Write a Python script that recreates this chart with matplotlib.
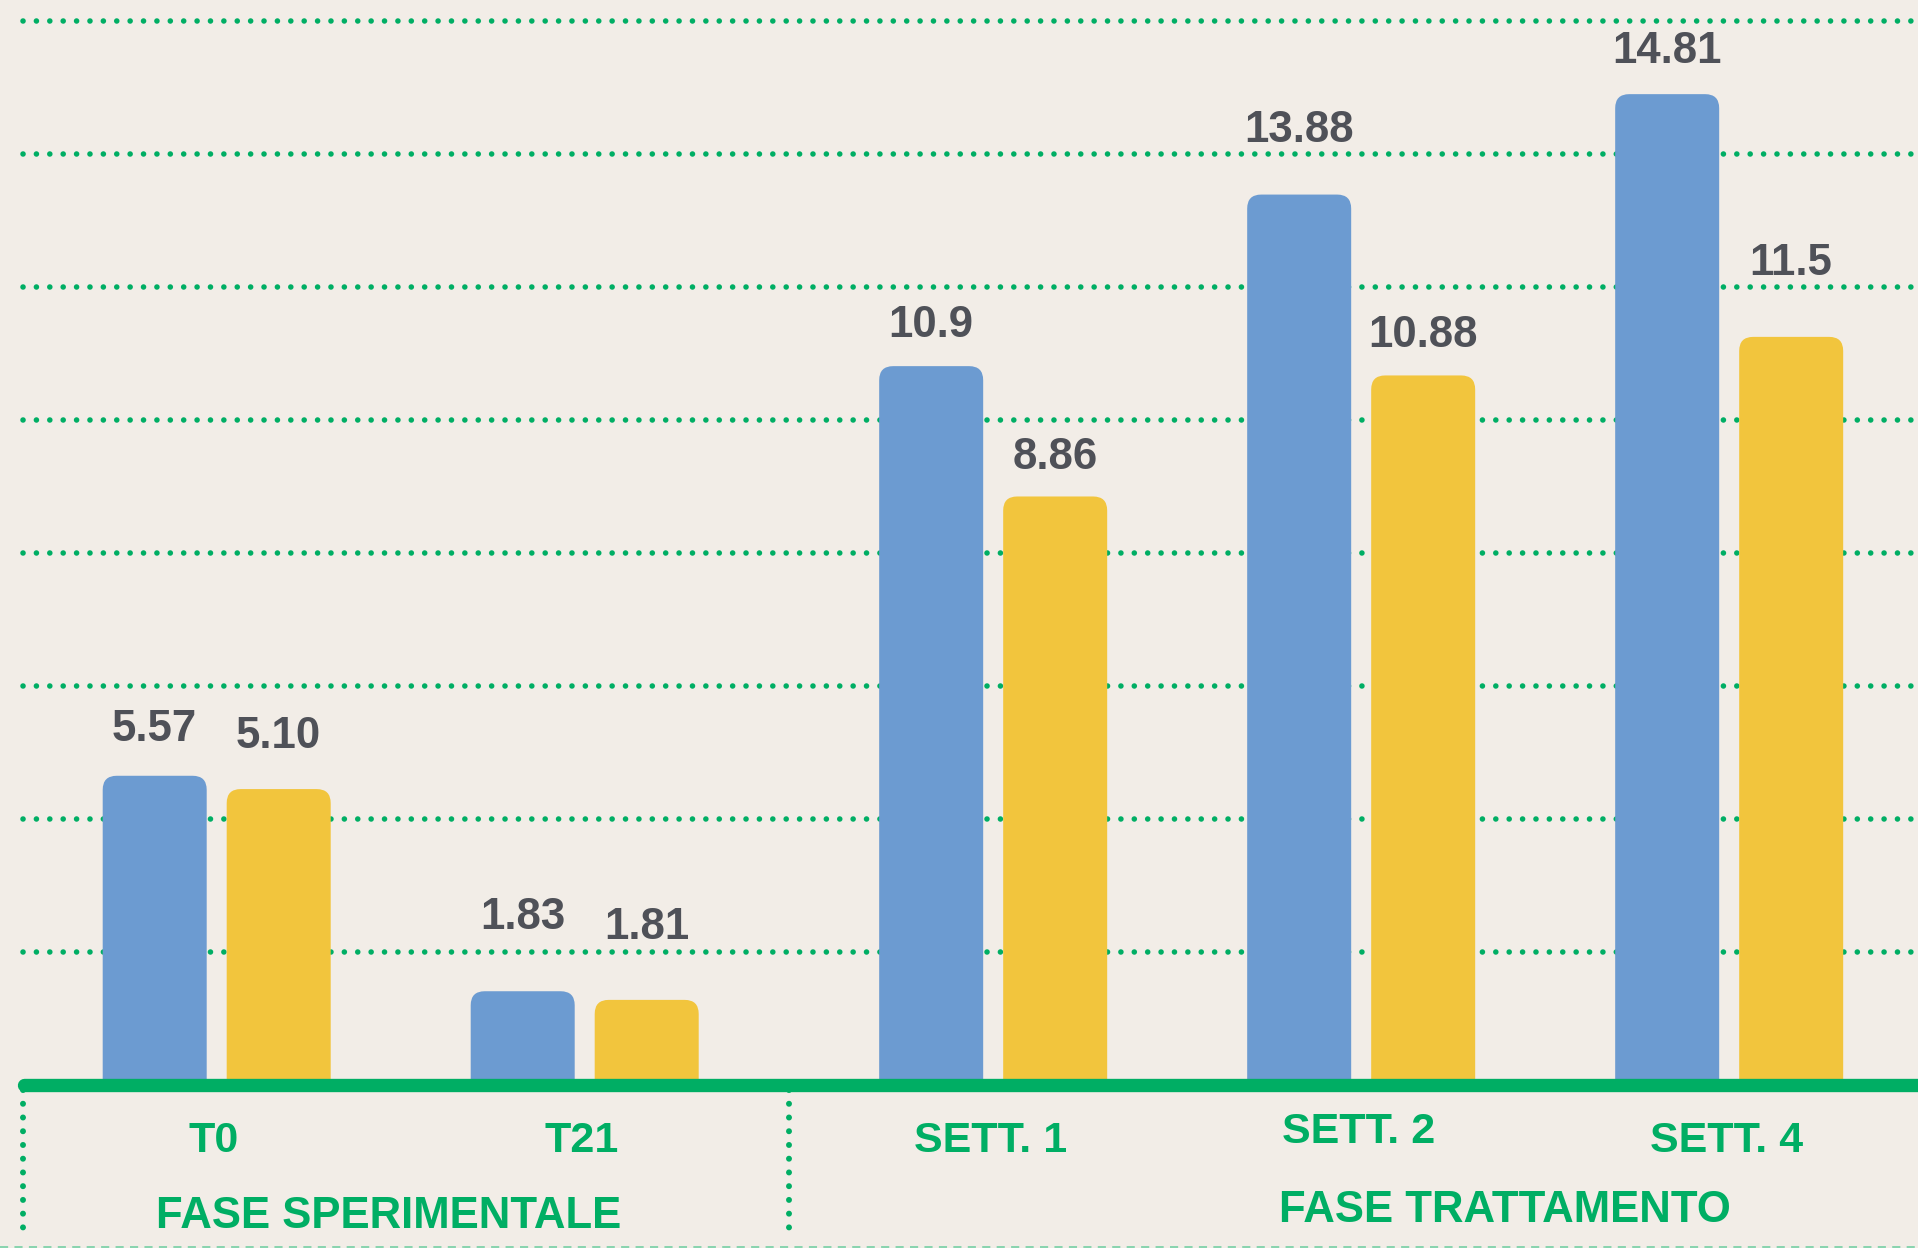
import matplotlib
matplotlib.use("Agg")
import matplotlib.pyplot as plt
from matplotlib.patches import FancyBboxPatch, Rectangle

# ---------------- data ----------------
categories = ["T0", "T21", "SETT. 1", "SETT. 2", "SETT. 4"]
category_phase = [0, 0, 1, 1, 1]
phases = ["FASE SPERIMENTALE", "FASE TRATTAMENTO"]
# bar heights as drawn in the picture (grid lines every 2 units)
blue_heights = [4.65, 1.41, 10.81, 13.39, 14.90]
yellow_heights = [4.45, 1.28, 8.85, 10.67, 11.25]
# value labels printed above the bars
blue_labels = ["5.57", "1.83", "10.9", "13.88", "14.81"]
yellow_labels = ["5.10", "1.81", "8.86", "10.88", "11.5"]
grid_values = [2, 4, 6, 8, 10, 12, 14, 16]

# ---------------- style / layout ----------------
BG = "#F2EDE7"
BLUE = "#6C9BD1"
YELLOW = "#F2C53D"
GREEN = "#00AE64"
LIGHT_GREEN = "#7FD2A9"
GRAY = "#4F5158"
FONT = ["Liberation Sans", "DejaVu Sans"]

W, H, DPI = 1918, 1248, 100
PX_X = 368.0      # pixels per category unit
X0 = 216.7        # pixel x of first category
PX_Y = 66.5       # pixels per value unit
Y0 = 1085.0       # pixel y of value 0
PHASE_GAP = 0.11
BAR_W = 104 / PX_X
BAR_OFF = 62 / PX_X
RADIUS_PX = 14
blue_lift_px = [35, 62, 29, 53, 31]
yellow_lift_px = [41, 61, 27, 28, 62]
cat_raise_px = [0, 0, 0, 9, 0]
phase_label_x = [0.466, 3.502]
phase_baseline_px = [1228, 1222]
cat_baseline_px = 1152


def vy(px):
    return (Y0 - px) / PX_Y


def ux(px):
    return (px - X0) / PX_X


fig = plt.figure(figsize=(W / DPI, H / DPI), dpi=DPI, facecolor=BG)
ax = fig.add_axes([0, 0, 1, 1])
ax.set_facecolor(BG)
xlim = (ux(0), ux(W))
ylim = (vy(H), vy(0))
ax.set_xlim(*xlim)
ax.set_ylim(*ylim)
ax.axis("off")

positions = [i + PHASE_GAP * p for i, p in enumerate(category_phase)]

# dotted grid lines
for g in grid_values:
    ax.plot([ux(23.3), xlim[1] + 0.1], [g, g], color=GREEN, lw=4.0,
            linestyle=(0, (0.01, 2.4)), dash_capstyle="round", zorder=1)

# bars with rounded tops
aspect = PX_X / PX_Y
r = RADIUS_PX / PX_X
clip = Rectangle((xlim[0], 0), xlim[1] - xlim[0], 30, transform=ax.transData)
for heights, off, color in [(blue_heights, -BAR_OFF, BLUE),
                            (yellow_heights, BAR_OFF, YELLOW)]:
    for pos, h in zip(positions, heights):
        p = FancyBboxPatch((pos + off - BAR_W / 2, -0.5), BAR_W, h + 0.5,
                           boxstyle=f"round,pad=0,rounding_size={r}",
                           mutation_aspect=aspect, fc=color, ec="none", zorder=3)
        ax.add_patch(p)
        p.set_clip_path(clip)

# value labels
for labels, heights, lifts, off in [(blue_labels, blue_heights, blue_lift_px, -BAR_OFF),
                                    (yellow_labels, yellow_heights, yellow_lift_px, BAR_OFF)]:
    for pos, h, lab, lift in zip(positions, heights, labels, lifts):
        ax.annotate(lab, xy=(pos + off, h), xytext=(0, lift * 72 / DPI),
                    textcoords="offset points", ha="center", va="baseline",
                    fontsize=31.5, fontweight="bold", color=GRAY, family=FONT,
                    zorder=6)

# baseline
ax.plot([ux(24), xlim[1] + 0.1], [0, 0], color=GREEN, lw=9.6,
        solid_capstyle="round", zorder=5)

# phase separators (dotted verticals)
sep_mid = (positions[1] + positions[2]) / 2
for sx in [ux(23.3), sep_mid]:
    ax.plot([sx, sx], [vy(1090), vy(1240)], color=GREEN, lw=4.3,
            linestyle=(0, (0.01, 2.29)), dash_capstyle="round", zorder=4)

# bottom light dashed line
ax.plot([xlim[0], xlim[1]], [vy(1246.8), vy(1246.8)], color=LIGHT_GREEN,
        lw=1.3, linestyle=(0, (4.5, 3.5)), zorder=4)

# category labels
for pos, lab, dy in zip(positions, categories, cat_raise_px):
    ax.text(pos - 3 / PX_X, vy(cat_baseline_px - dy), lab, ha="center",
            va="baseline", fontsize=31, fontweight="bold", color=GREEN,
            family=FONT, zorder=6)

# phase labels
for x, lab, b in zip(phase_label_x, phases, phase_baseline_px):
    ax.text(x, vy(b), lab, ha="center", va="baseline", fontsize=31.5,
            fontweight="bold", color=GREEN, family=FONT, zorder=6)

fig.savefig("out.png", dpi=DPI, facecolor=BG)
